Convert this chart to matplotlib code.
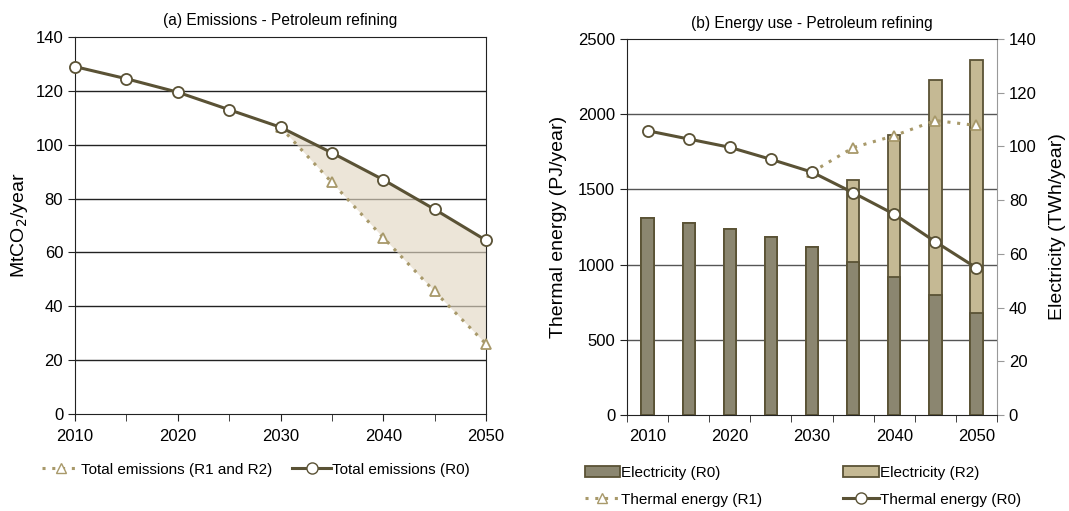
import numpy as np
import matplotlib.pyplot as plt
from matplotlib.lines import Line2D
from matplotlib.patches import Patch

plt.rcParams['font.family'] = ['Liberation Sans', 'DejaVu Sans']
plt.rcParams['font.size'] = 11

# ---------------- data ----------------
years = [2010, 2015, 2020, 2025, 2030, 2035, 2040, 2045, 2050]
emis_r0 = [129, 124.5, 119.5, 113, 106.5, 97, 87, 76, 64.5]
emis_r12_years = [2030, 2035, 2040, 2045, 2050]
emis_r12 = [106.5, 86, 65.5, 45.5, 26]

elec_r0 = [73.4, 71.4, 69.2, 66.1, 62.7, 57.1, 51.2, 44.8, 37.8]     # TWh/year
elec_r2 = [73.4, 71.4, 69.2, 66.1, 62.7, 87.6, 104.2, 124.9, 132.2]  # TWh/year
therm_r0 = [1890, 1835, 1780, 1700, 1615, 1478, 1335, 1152, 978]     # PJ/year
therm_r1_idx = [4, 5, 6, 7, 8]
therm_r1 = [1615, 1778, 1857, 1958, 1925]

dark = '#5a5235'
tan = '#a8996a'
fill_c = '#e3d8c4'
bar_r0 = '#8b8670'
bar_r2 = '#c5b994'
W, H = 1069, 511

fig = plt.figure(figsize=(W / 100, H / 100), dpi=100)

# ---------------- (a) emissions ----------------
ax = fig.add_axes([75/W, 1-414/H, 411/W, 377/H])
for v in [20, 40, 60, 80, 100, 120]:
    ax.axhline(v, color='#222222', lw=1, zorder=1)
r0_at = np.interp(emis_r12_years, years, emis_r0)
ax.fill_between(emis_r12_years, emis_r12, r0_at, color=fill_c, alpha=0.65, lw=0, zorder=2)
ax.plot(emis_r12_years, emis_r12, ls=(0, (1, 2.2)), color=tan, lw=2.2, marker='^',
        ms=7, mfc='white', mec=tan, mew=1.3, zorder=3, clip_on=False)
ax.plot(years, emis_r0, color=dark, lw=2.2, marker='o', ms=8, mfc='white',
        mec=dark, mew=1.3, zorder=4, clip_on=False)
ax.set_xlim(2010, 2050)
ax.set_ylim(0, 140)
ax.set_xticks(range(2010, 2051, 10))
ax.set_xticks(range(2010, 2051, 5), minor=True)
ax.set_yticks(range(0, 141, 20))
ax.tick_params(axis='both', which='both', direction='out', length=5, color='#222222', labelsize=12)
ax.tick_params(axis='x', pad=6)
for s in ax.spines.values():
    s.set_color('#222222')
ax.set_ylabel('MtCO$_2$/year', fontsize=14, labelpad=4)
ax.set_title('(a) Emissions - Petroleum refining', fontsize=11.2, pad=9)

h1 = [Line2D([], [], ls=(0, (1, 2.2)), color=tan, lw=2.2, marker='^', ms=7, mfc='white', mec=tan),
      Line2D([], [], color=dark, lw=2.2, marker='o', ms=8, mfc='white', mec=dark)]
fig.legend(h1, ['Total emissions (R1 and R2)', 'Total emissions (R0)'], ncol=2,
           loc='upper left', bbox_to_anchor=(34/W, 1-455/H), frameon=False, fontsize=11,
           borderpad=0, handlelength=2.5, handletextpad=0.1, columnspacing=1.3)

# ---------------- (b) energy use ----------------
bx = fig.add_axes([627/W, 1-415/H, 370/W, 376/H])
bx2 = bx.twinx()
bx.set_zorder(bx2.get_zorder() + 1)
bx.patch.set_visible(False)
x = np.arange(len(years))
lmax, rmax = 2500, 140
for v in [500, 1000, 1500, 2000]:
    bx2.axhline(v * rmax / lmax, color='#555555', lw=1, zorder=0.5)
bx2.bar(x, elec_r2, width=0.3, color=bar_r2, edgecolor=dark, lw=1.3, zorder=2)
bx2.bar(x, elec_r0, width=0.3, color=bar_r0, edgecolor=dark, lw=1.3, zorder=3)
bx2.set_ylim(0, rmax)
bx2.set_yticks(range(0, 141, 20))
bx2.set_ylabel('Electricity (TWh/year)', fontsize=14, labelpad=9)
bx2.tick_params(axis='y', direction='out', length=5, color='#999999', labelsize=12)

bx.plot(therm_r1_idx, therm_r1, ls=(0, (1, 2.2)), color=tan, lw=2.2, marker='^',
        ms=7, mfc='white', mec=tan, mew=1.3, zorder=3)
bx.plot(x, therm_r0, color=dark, lw=2.2, marker='o', ms=8, mfc='white',
        mec=dark, mew=1.3, zorder=4)
bx.set_xlim(-0.5, len(years) - 0.5)
bx.set_ylim(0, lmax)
bx.set_yticks(range(0, 2501, 500))
bx.set_xticks(x[::2])
bx.set_xticklabels([str(y) for y in years[::2]])
bx.set_xticks(np.arange(-0.5, len(years)), minor=True)
bx.tick_params(axis='x', which='major', length=0, pad=10, labelsize=12)
bx.tick_params(axis='x', which='minor', direction='out', length=5, color='#222222')
bx.tick_params(axis='y', direction='out', length=5, color='#222222', labelsize=12)
bx.set_ylabel('Thermal energy (PJ/year)', fontsize=14, labelpad=8)
bx.set_title('(b) Energy use - Petroleum refining', fontsize=11.2, pad=8)
for s in ['left', 'bottom', 'top']:
    bx.spines[s].set_color('#222222')
bx.spines['right'].set_visible(False)
bx2.spines['right'].set_color('#999999')
for s in ['left', 'bottom', 'top']:
    bx2.spines[s].set_visible(False)

h2 = [Patch(facecolor=bar_r0, edgecolor=dark, lw=1.3),
      Line2D([], [], ls=(0, (1, 2.2)), color=tan, lw=2.2, marker='^', ms=7, mfc='white', mec=tan),
      Patch(facecolor=bar_r2, edgecolor=dark, lw=1.3),
      Line2D([], [], color=dark, lw=2.2, marker='o', ms=8, mfc='white', mec=dark)]
fig.legend(h2, ['Electricity (R0)', 'Thermal energy (R1)', 'Electricity (R2)', 'Thermal energy (R0)'],
           ncol=2, loc='upper left', bbox_to_anchor=(577/W, 1-458/H), frameon=False, fontsize=11,
           borderpad=0, handlelength=2.3, handleheight=0.8, handletextpad=0.1,
           columnspacing=5.3, labelspacing=0.85)

fig.savefig('out.png', dpi=100)
